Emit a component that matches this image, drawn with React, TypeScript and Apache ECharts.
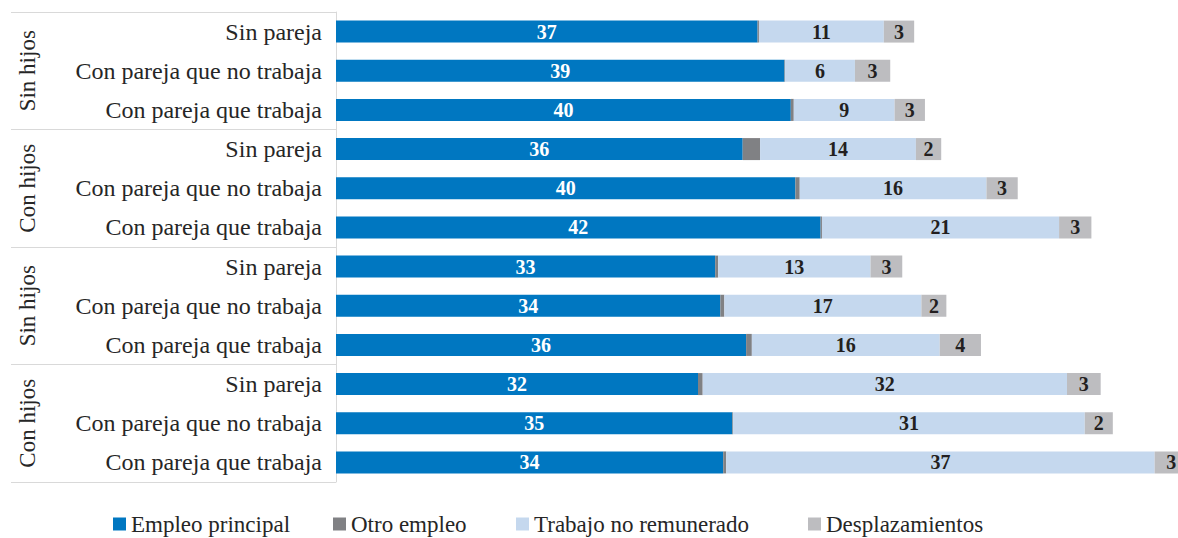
import React, { useEffect, useRef } from "react";
import * as echarts from "echarts";

const categories = [
  "Sin pareja", "Con pareja que no trabaja", "Con pareja que trabaja",
  "Sin pareja", "Con pareja que no trabaja", "Con pareja que trabaja",
  "Sin pareja", "Con pareja que no trabaja", "Con pareja que trabaja",
  "Sin pareja", "Con pareja que no trabaja", "Con pareja que trabaja",
];
const groups = ["Sin hijos", "Con hijos", "Sin hijos", "Con hijos"];
const seriesNames = ["Empleo principal", "Otro empleo", "Trabajo no remunerado", "Desplazamientos"];
const empleoPrincipal = [36.8, 39.15, 39.7, 35.5, 40.1, 42.3, 33.1, 33.55, 35.8, 31.6, 34.6, 33.8];
const otroEmpleo = [0.12, 0.05, 0.26, 1.52, 0.38, 0.12, 0.26, 0.35, 0.5, 0.41, 0.06, 0.26];
const trabajoNoRemunerado = [10.9, 6.1, 8.8, 13.6, 16.3, 20.7, 13.3, 17.2, 16.4, 31.8, 30.7, 37.4];
const desplazamientos = [2.65, 3.08, 2.65, 2.21, 2.73, 2.82, 2.77, 2.18, 3.6, 2.94, 2.45, 2.9];

const colors = ["#0077c1", "#808184", "#c5d8ee", "#bdbdc0"];
const FONT = "'Liberation Serif', 'Times New Roman', serif";

export default function App() {
  const ref = useRef<HTMLDivElement>(null);
  useEffect(() => {
    document.body.style.margin = "0";
    const chart = echarts.init(ref.current!, null, { renderer: "svg" });
    const catIds = categories.map((c, i) => `${i}|${c}`);
    const grpIds = groups.map((g, i) => `${i}|${g}`);
    const strip = (v: string) => v.split("|")[1];
    const dataSets = [empleoPrincipal, otroEmpleo, trabajoNoRemunerado, desplazamientos];
    const legendLefts = [113, 333, 516, 808];
    chart.setOption({
      animation: false,
      textStyle: { fontFamily: FONT },
      grid: { left: 336, top: 12, bottom: 56, right: 0, containLabel: false },
      xAxis: { type: "value", min: 0, max: 73.5, show: false },
      yAxis: [
        {
          type: "category",
          data: catIds,
          inverse: true,
          axisLine: { show: true, lineStyle: { color: "#d9d9d9", width: 1 } },
          axisTick: { show: false },
          axisLabel: {
            formatter: strip,
            fontFamily: FONT,
            fontSize: 24,
            color: "#262626",
            margin: 14,
          },
        },
        {
          type: "category",
          data: grpIds,
          inverse: true,
          position: "left",
          axisLine: { show: false },
          axisTick: { show: true, length: 325, lineStyle: { color: "#d9d9d9", width: 1 } },
          axisLabel: {
            formatter: strip,
            fontFamily: FONT,
            fontSize: 23,
            color: "#262626",
            rotate: 90,
            margin: 297,
          },
        },
      ],
      legend: seriesNames.map((n, i) => ({
        data: [n],
        left: legendLefts[i],
        top: 512,
        padding: 0,
        icon: "rect",
        itemWidth: 13,
        itemHeight: 13,
        textStyle: { fontFamily: FONT, fontSize: 23, color: "#262626", lineHeight: 24 },
      })),
      series: seriesNames.map((n, i) => ({
        name: n,
        type: "bar",
        stack: "total",
        yAxisIndex: 0,
        barWidth: 22,
        clip: false,
        itemStyle: { color: colors[i] },
        data: dataSets[i],
        label: {
          show: i !== 1,
          position: "inside",
          formatter: (p: any) => String(Math.round(p.value)),
          fontFamily: FONT,
          fontSize: 20,
          fontWeight: "bold",
          color: i === 0 ? "#ffffff" : "#231f20",
        },
      })),
    });
    return () => chart.dispose();
  }, []);
  return <div ref={ref} style={{ width: 1178, height: 538 }} />;
}
